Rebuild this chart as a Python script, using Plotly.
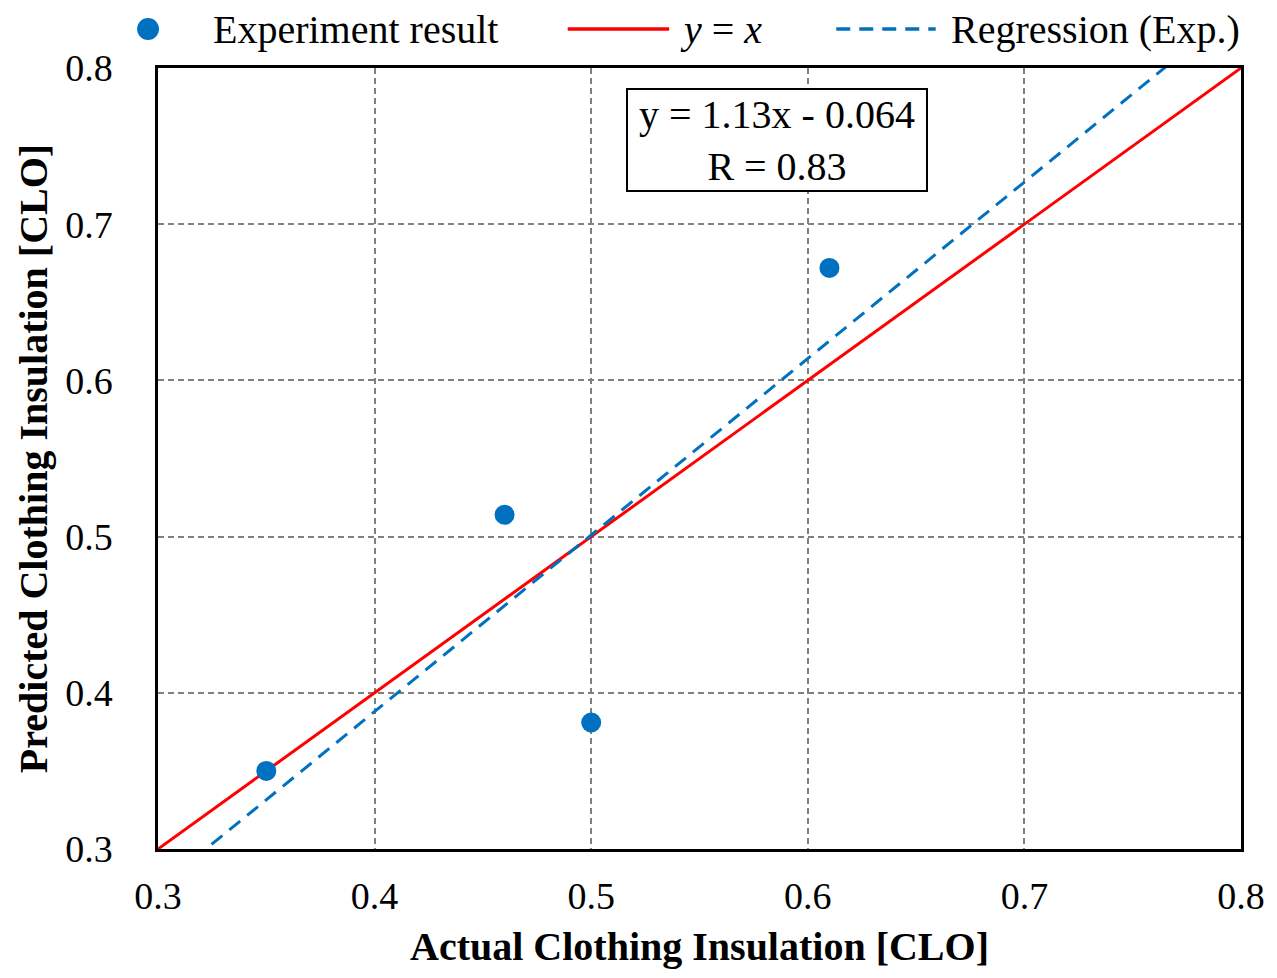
import plotly.graph_objects as go

# Data
actual = [0.35, 0.46, 0.50, 0.61]
predicted = [0.350, 0.514, 0.381, 0.672]
reg_slope = 1.13
reg_intercept = -0.064
r_value = 0.83
ref_x = [0.3, 0.8]
tick_vals = [0.3, 0.4, 0.5, 0.6, 0.7, 0.8]
tick_text = ["0.3", "0.4", "0.5", "0.6", "0.7", "0.8"]

BLUE = "#0070C0"
RED = "#FF0000"
FONT = "Liberation Serif"

reg_y = [reg_slope * x + reg_intercept for x in ref_x]

fig = go.Figure()
fig.add_trace(go.Scatter(x=ref_x, y=ref_x, mode="lines",
                         line=dict(color=RED, width=3), showlegend=False))
fig.add_trace(go.Scatter(x=ref_x, y=reg_y, mode="lines",
                         line=dict(color=BLUE, width=3, dash="14px,9px"), showlegend=False))
fig.add_trace(go.Scatter(x=actual, y=predicted, mode="markers",
                         marker=dict(color=BLUE, size=20), showlegend=False, cliponaxis=False))

axis_common = dict(range=[0.3, 0.8], tickvals=tick_vals, ticktext=tick_text,
                   showgrid=True, gridcolor="#808080", griddash="6px,4px", gridwidth=1.5,
                   showline=True, linecolor="black", linewidth=2.5, mirror=True,
                   zeroline=False, ticks="outside", tickcolor="rgba(0,0,0,0)",
                   tickfont=dict(family=FONT, size=38, color="black"))

fig.update_xaxes(**axis_common, ticklen=12)
fig.update_yaxes(**axis_common, ticklen=35)

W, H = 1277, 978
L, R, T, B = 158, 30, 68, 129
pw, ph = W - L - R, H - T - B

def px2paper_x(px):
    return (px - L) / pw

def px2paper_y(py):
    return (H - B - py) / ph

annotations = []
shapes = []

# Regression equation box
annotations.append(dict(x=0.5856, y=0.7539, xref="x", yref="y", xanchor="center", yanchor="middle",
                        text=f"y = {reg_slope:.2f}x - {abs(reg_intercept):.3f}<br>R = {r_value:.2f}",
                        showarrow=False, font=dict(family=FONT, size=40, color="black"),
                        width=290, height=92,
                        bordercolor="black", borderwidth=2, borderpad=4, bgcolor="white",
                        align="center", valign="middle"))

# Axis titles
annotations.append(dict(x=0.5, y=px2paper_y(946), xref="paper", yref="paper",
                        xanchor="center", yanchor="middle",
                        text="<b>Actual Clothing Insulation [CLO]</b>", showarrow=False,
                        font=dict(family=FONT, size=40, color="black")))
annotations.append(dict(x=px2paper_x(33), y=0.5, xref="paper", yref="paper",
                        xanchor="center", yanchor="middle",
                        text="<b>Predicted Clothing Insulation [CLO]</b>", showarrow=False,
                        textangle=-90, font=dict(family=FONT, size=40, color="black")))

# Manual legend
lyf = 29
ly = px2paper_y(lyf)
shapes.append(dict(type="circle", xref="paper", yref="paper",
                   x0=px2paper_x(137), x1=px2paper_x(159),
                   y0=px2paper_y(lyf + 11), y1=px2paper_y(lyf - 11),
                   fillcolor=BLUE, line=dict(width=0)))
annotations.append(dict(x=px2paper_x(211), y=ly, xref="paper", yref="paper",
                        xanchor="left", yanchor="middle",
                        text="Experiment result", showarrow=False,
                        font=dict(family=FONT, size=40, color="black")))
shapes.append(dict(type="line", xref="paper", yref="paper",
                   x0=px2paper_x(570), x1=px2paper_x(672), y0=ly, y1=ly,
                   line=dict(color=RED, width=3.5)))
annotations.append(dict(x=px2paper_x(681), y=ly, xref="paper", yref="paper",
                        xanchor="left", yanchor="middle",
                        text="<i>y</i> = <i>x</i>", showarrow=False,
                        font=dict(family=FONT, size=40, color="black")))
shapes.append(dict(type="line", xref="paper", yref="paper",
                   x0=px2paper_x(840), x1=px2paper_x(940), y0=ly, y1=ly,
                   line=dict(color=BLUE, width=3.5, dash="14px,9px")))
annotations.append(dict(x=px2paper_x(953), y=ly, xref="paper", yref="paper",
                        xanchor="left", yanchor="middle",
                        text="Regression (Exp.)", showarrow=False,
                        font=dict(family=FONT, size=40, color="black")))

fig.update_layout(width=W, height=H, margin=dict(l=L, r=R, t=T, b=B),
                  plot_bgcolor="white", paper_bgcolor="white",
                  annotations=annotations, shapes=shapes, showlegend=False)

fig.write_html("out.html")
